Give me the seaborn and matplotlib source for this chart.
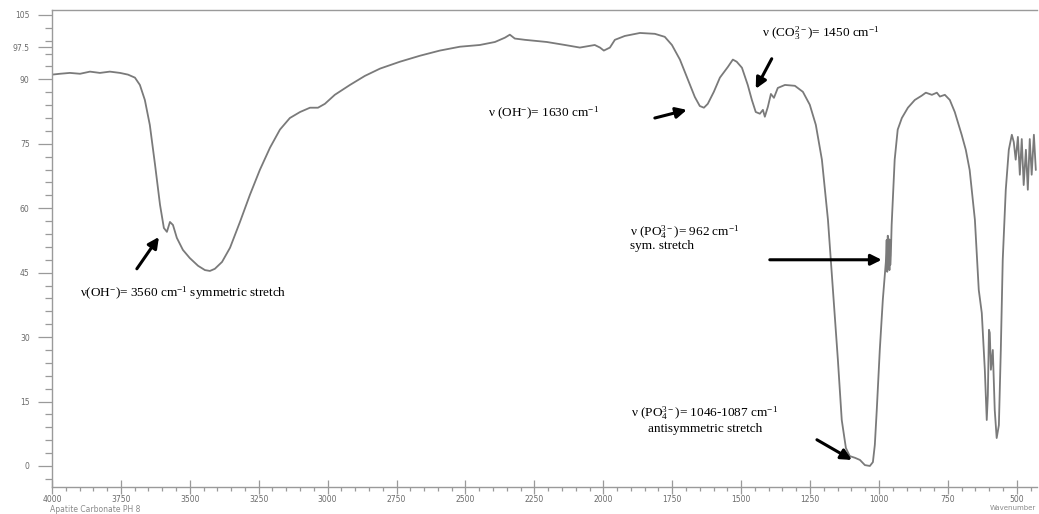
import matplotlib
matplotlib.use("Agg")
import matplotlib.pyplot as plt
from matplotlib.ticker import MultipleLocator, FixedLocator
import seaborn as sns
import pandas as pd

# FTIR spectrum of carbonated apatite: wavenumber (cm-1) vs transmittance (%)
wavenumber = [
    4000, 3971, 3935, 3898, 3862, 3826, 3790, 3753, 3724, 3699, 3681, 3663,
    3645, 3626, 3608, 3594, 3583, 3572, 3561, 3547, 3525, 3500, 3470, 3445,
    3427, 3409, 3383, 3354, 3318, 3282, 3246, 3209, 3173, 3137, 3100, 3064,
    3035, 3010, 2974, 2919, 2865, 2810, 2738, 2665, 2593, 2520, 2448, 2393,
    2357, 2339, 2321, 2284, 2205, 2139, 2085, 2049, 2031, 2012, 1998, 1976,
    1958, 1922, 1867, 1813, 1777, 1751, 1722, 1693, 1668, 1650, 1635, 1621,
    1599, 1577, 1548, 1530, 1516, 1497, 1476, 1461, 1447, 1432, 1421, 1414,
    1403, 1392, 1381, 1367, 1341, 1305, 1276, 1251, 1229, 1207, 1185, 1167,
    1149, 1135, 1120, 1106, 1087, 1069, 1051, 1033, 1022, 1015, 1008, 997,
    986, 975, 972, 970, 968, 966, 964, 962, 961, 959, 957, 954, 943, 932,
    917, 895, 870, 845, 830, 808, 790, 779, 761, 743, 725, 714, 700, 685,
    671, 652, 638, 627, 616, 609, 605, 601, 598, 594, 587, 580, 573, 565,
    558, 551, 540, 529, 518, 511, 504, 496, 489, 482, 475, 467, 460, 453,
    446, 438, 431,
]
transmittance = [
    91.1, 91.3, 91.5, 91.3, 91.8, 91.5, 91.8, 91.5, 91.1, 90.4, 88.7, 85.2,
    79.4, 70.1, 60.8, 55.4, 54.5, 56.8, 56.1, 53.1, 50.3, 48.4, 46.6, 45.6,
    45.4, 45.9, 47.5, 50.8, 56.8, 63.1, 68.9, 74.1, 78.3, 81.0, 82.4, 83.4,
    83.4, 84.3, 86.4, 88.7, 90.8, 92.5, 94.1, 95.5, 96.7, 97.6, 98.0, 98.7,
    99.7, 100.4, 99.5, 99.2, 98.7, 98.0, 97.4, 97.8, 98.0, 97.4, 96.7, 97.4,
    99.2, 100.1, 100.8, 100.6, 99.9, 98.0, 94.6, 89.9, 85.9, 83.8, 83.4, 84.3,
    87.1, 90.4, 92.9, 94.6, 94.1, 92.7, 88.7, 85.2, 82.4, 82.0, 82.9, 81.3,
    83.6, 86.6, 85.7, 88.0, 88.7, 88.5, 87.1, 84.1, 79.4, 71.3, 57.3, 41.0,
    24.7, 10.7, 4.2, 2.3, 1.9, 1.4, 0.2, 0.0, 0.9, 4.9, 13.0, 27.0,
    38.7, 47.5, 52.6, 45.2, 53.6, 46.0, 52.8, 45.6, 52.6, 46.8, 49.0, 56.1,
    71.3, 78.3, 81.0, 83.4, 85.2, 86.2, 86.9, 86.4, 86.9, 86.0, 86.4, 85.2,
    82.4, 80.1, 77.1, 73.6, 68.9, 57.3, 41.0, 35.6, 22.4, 10.7, 16.5, 31.7,
    31.0, 22.4, 27.0, 13.0, 6.5, 9.5, 27.0, 48.0, 64.3, 73.6, 77.1, 75.4,
    71.3, 76.6, 67.8, 76.1, 65.4, 73.6, 64.3, 76.1, 67.8, 77.1, 68.9,
]

y_ticks = [0, 15, 30, 45, 60, 75, 90, 97.5, 105]
y_tick_labels = ["0", "15", "30", "45", "60", "75", "90", "97.5", "105"]
x_ticks = [4000, 3750, 3500, 3250, 3000, 2750, 2500, 2250, 2000, 1750,
           1500, 1250, 1000, 750, 500]

spectrum = pd.DataFrame({"wavenumber": wavenumber, "transmittance": transmittance})

sns.set_theme(style="white")
plt.rcParams["font.family"] = ["Liberation Serif", "DejaVu Serif"]
plt.rcParams["mathtext.fontset"] = "custom"
plt.rcParams["mathtext.rm"] = "Liberation Serif"
plt.rcParams["mathtext.it"] = "Liberation Serif:italic"
plt.rcParams["mathtext.bf"] = "Liberation Serif:bold"

fig = plt.figure(figsize=(10.39, 5.14), dpi=100)
ax = fig.add_axes([0.050, 0.0525, 0.948, 0.9285])

sns.lineplot(data=spectrum, x="wavenumber", y="transmittance", sort=False,
             color="#7a7a7a", linewidth=1.3, ax=ax)

ax.set_xlim(4000, 427)
ax.set_ylim(-4.9, 106.2)
ax.set_xlabel("")
ax.set_ylabel("")

axis_grey = "#9a9a9a"
for side in ["left", "bottom", "top", "right"]:
    ax.spines[side].set_color(axis_grey)
    ax.spines[side].set_linewidth(1.0)
ax.spines["right"].set_visible(False)

ax.yaxis.set_major_locator(FixedLocator(y_ticks))
ax.set_yticklabels(y_tick_labels)
ax.yaxis.set_minor_locator(MultipleLocator(3))
ax.xaxis.set_major_locator(FixedLocator(x_ticks))
ax.xaxis.set_minor_locator(MultipleLocator(50))

ax.tick_params(axis="y", which="major", direction="out", length=10, width=0.9,
               color=axis_grey, labelsize=5.5, labelcolor="#6a6a6a", pad=6, left=True)
ax.tick_params(axis="y", which="minor", direction="out", length=5, width=0.9,
               color=axis_grey, left=True)
ax.tick_params(axis="x", which="major", direction="inout", length=10, width=0.9,
               color=axis_grey, labelsize=5.5, labelcolor="#6a6a6a", pad=1, bottom=True)
ax.tick_params(axis="x", which="minor", direction="out", length=3, width=0.9,
               color=axis_grey, bottom=True)
for lbl in ax.get_xticklabels() + ax.get_yticklabels():
    lbl.set_family(["DejaVu Sans"])

text_kw = dict(fontsize=9.5, color="black", va="center")
arrow_kw = dict(arrowstyle="-|>", color="black", lw=2.2, mutation_scale=16,
                shrinkA=0, shrinkB=0)

ax.text(3898, 40.3, "ν(OH$^{-}$)= 3560 cm$^{-1}$ symmetric stretch", ha="left", **text_kw)
ax.annotate("", xy=(3612, 53.3), xytext=(3692, 45.9), arrowprops=arrow_kw)

ax.text(2419, 82.0, "ν (OH$^{-}$)= 1630 cm$^{-1}$", ha="left", **text_kw)
ax.annotate("", xy=(1697, 82.9), xytext=(1813, 81.0), arrowprops=arrow_kw)

ax.text(1425, 100.8, "ν (CO$_3^{2-}$)= 1450 cm$^{-1}$", ha="left", **text_kw)
ax.annotate("", xy=(1447, 87.8), xytext=(1389, 94.8), arrowprops=arrow_kw)

ax.text(1904, 54.5, "ν (PO$_4^{3-}$)= 962 cm$^{-1}$", ha="left", **text_kw)
ax.text(1904, 51.3, "sym. stretch", ha="left", **text_kw)
ax.annotate("", xy=(990, 48.0), xytext=(1396, 48.0), arrowprops=arrow_kw)

ax.text(1632, 12.3, "ν (PO$_4^{3-}$)= 1046-1087 cm$^{-1}$", ha="center", **text_kw)
ax.text(1632, 8.6, "antisymmetric stretch", ha="center", **text_kw)
ax.annotate("", xy=(1098, 1.4), xytext=(1225, 6.1), arrowprops=arrow_kw)

fig.text(50 / 1039, 1 - 509 / 514, "Apatite Carbonate PH 8", fontsize=5.5,
         color="#8a8a8a", ha="left", va="center", family=["DejaVu Sans"])
fig.text(1036 / 1039, 1 - 508 / 514, "Wavenumber", fontsize=5,
         color="#8a8a8a", ha="right", va="center", family=["DejaVu Sans"])

fig.savefig("out.png", dpi=100)
